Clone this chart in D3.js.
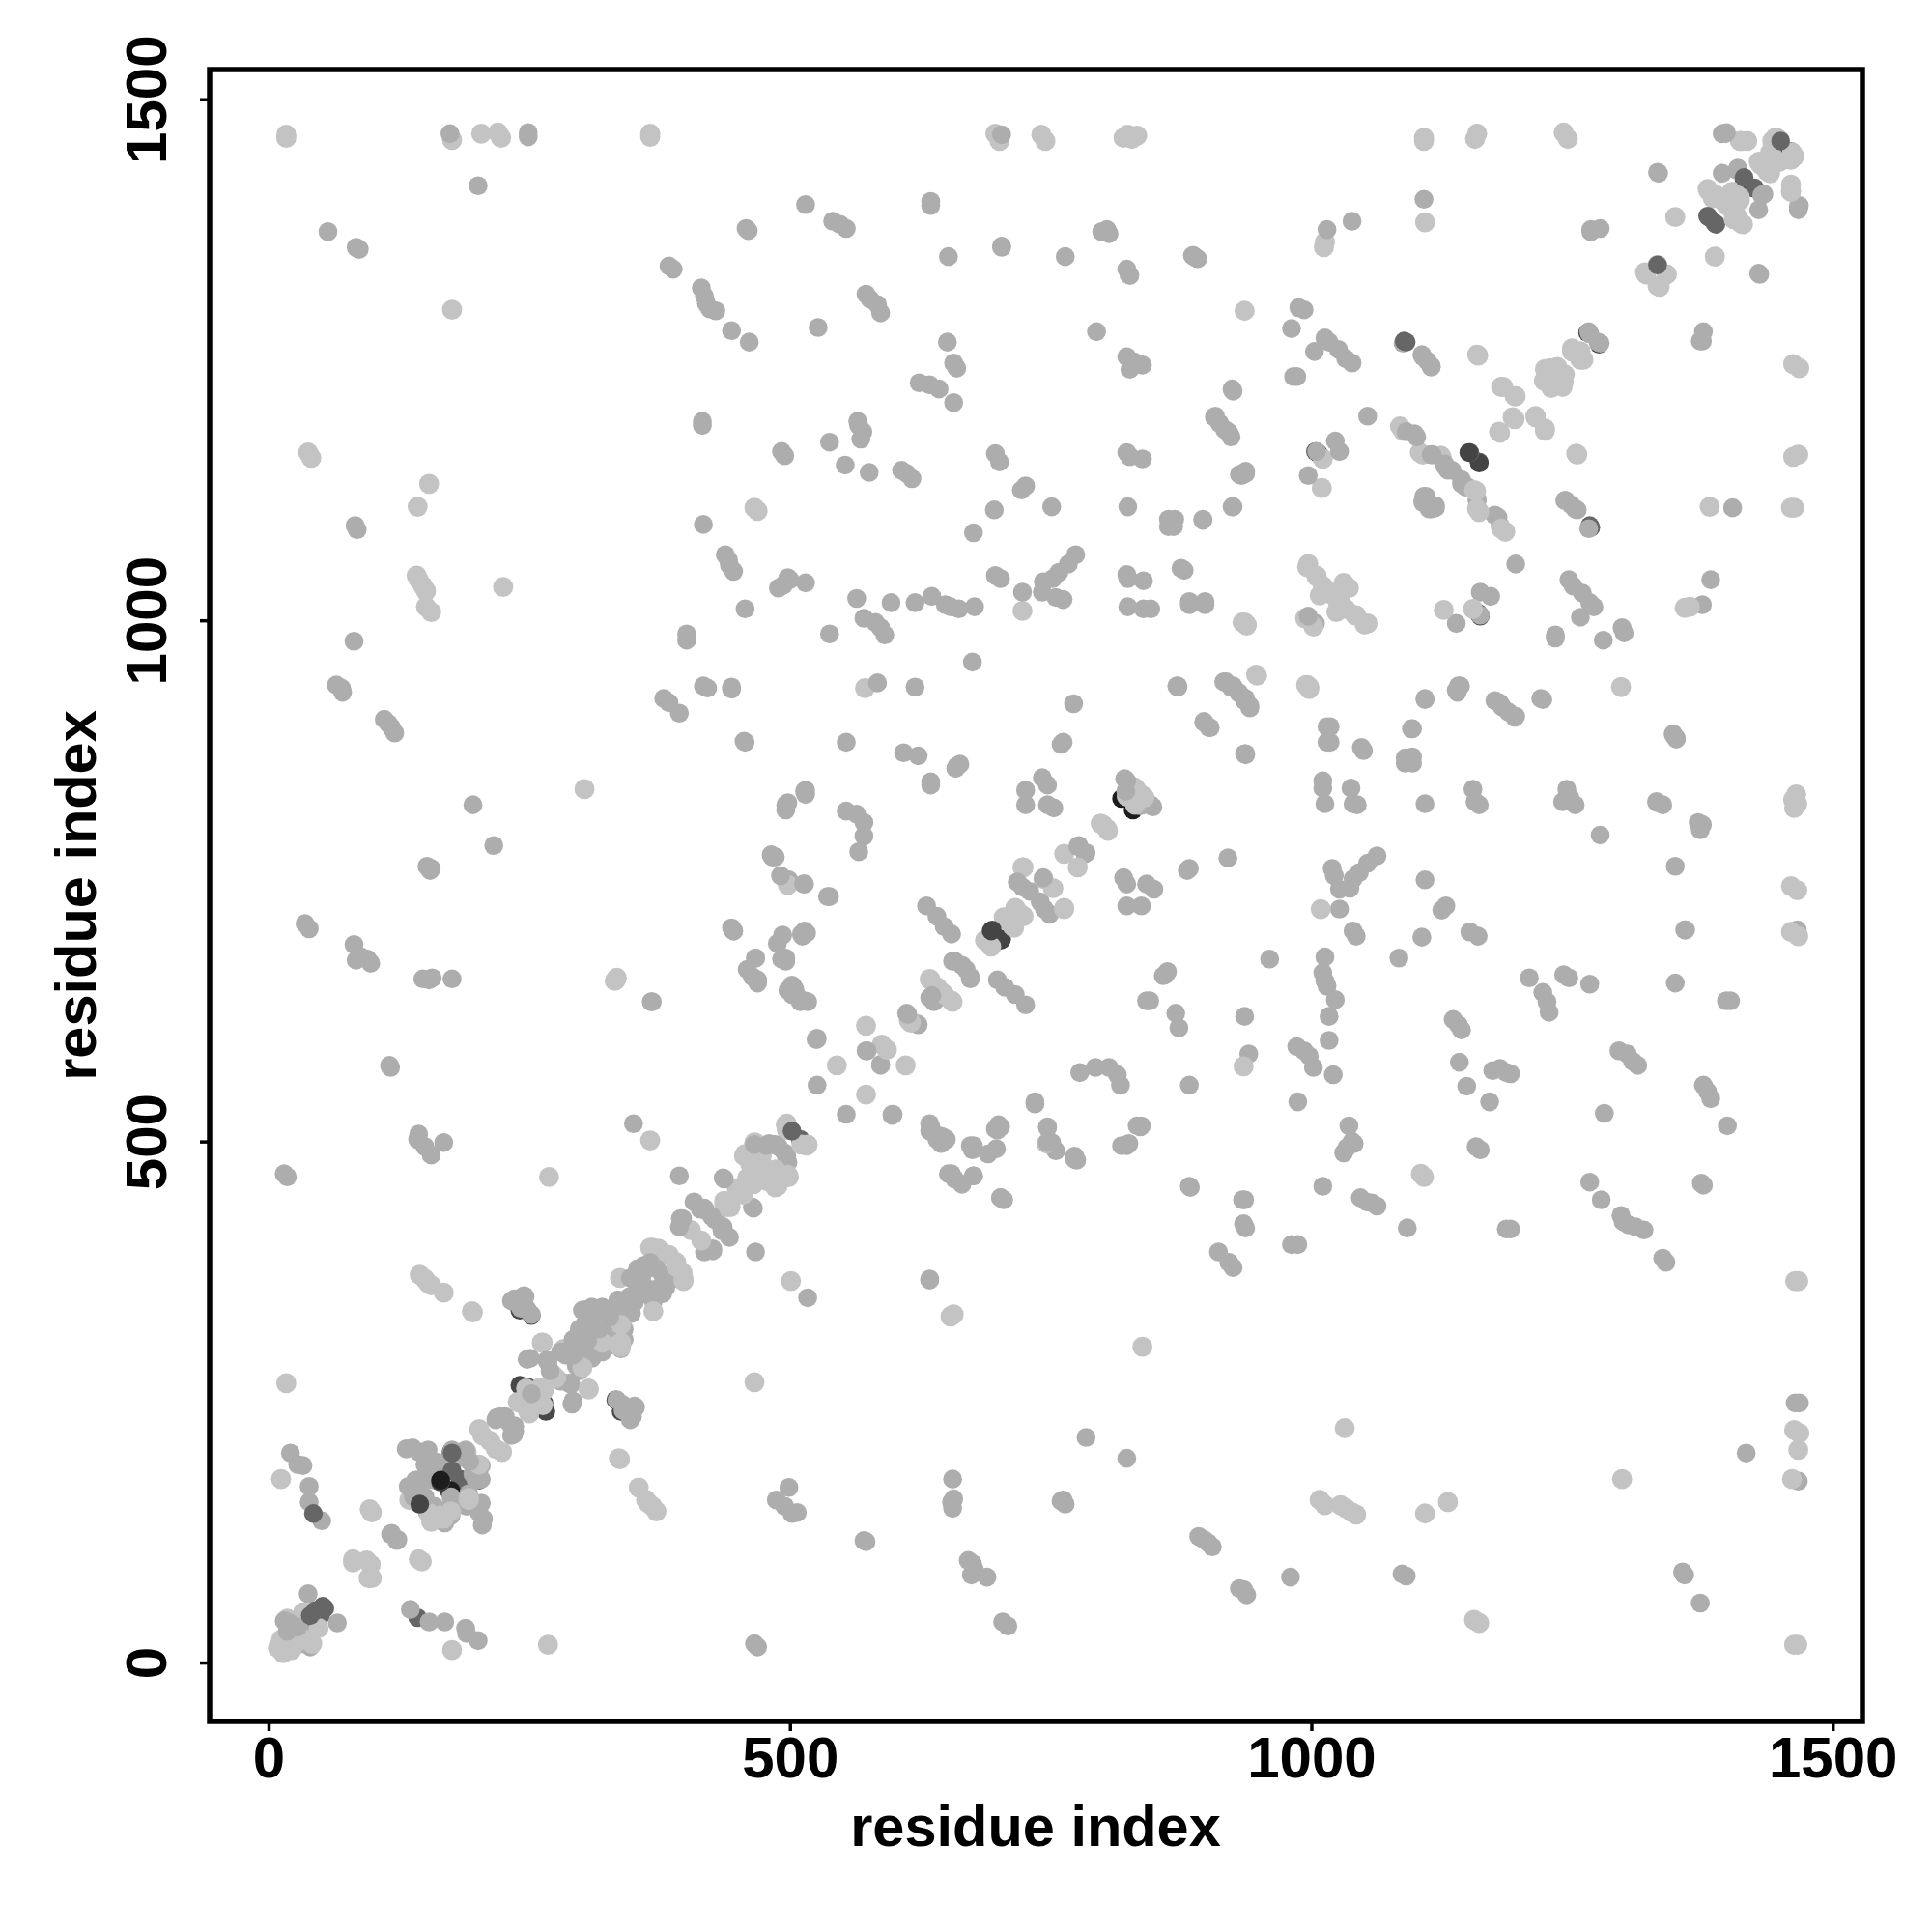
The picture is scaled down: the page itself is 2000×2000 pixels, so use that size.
<!DOCTYPE html>
<html><head><meta charset="utf-8">
<script src="https://cdn.jsdelivr.net/npm/d3@7"></script>
<style>html,body{margin:0;background:#fff}svg{display:block}</style></head>
<body><svg id="c" width="2000" height="2000"></svg>
<script>
const tickValues=[0,500,1000,1500];
const axisTitle="residue index";
const contactsMid=[[15,40],[28,34],[18,30],[20,38],[38,66],[21,201],[33,189],[28,190],[39,169],[39,154],[51,136],[15,469],[18,466],[39,704],[35,709],[57,1373],[85,1357],[84,1358],[87,1356],[85,1087],[83,1091],[82,980],[70,935],[65,938],[71,931],[98,671],[95,675],[89,677],[84,674],[82,689],[117,571],[116,573],[121,892],[118,897],[115,901],[111,905],[154,655],[148,656],[157,657],[176,656],[155,760],[152,764],[156,762],[196,823],[216,784],[201,1417],[174,1467],[249,1464],[249,1468],[460,1374],[458,1376],[515,1399],[554,1376],[548,1380],[541,1383],[388,1337],[384,1340],[429,1297],[423,1299],[420,1304],[418,1311],[415,1319],[444,1278],[461,1267],[527,1281],[538,1171],[553,1149],[576,1142],[495,1158],[492,1162],[417,1092],[446,1047],[442,1053],[441,1058],[438,1063],[416,1187],[416,1191],[401,981],[401,987],[384,921],[379,925],[394,911],[421,935],[417,937],[444,936],[444,934],[457,883],[456,884],[457,1011],[489,1031],[494,1034],[500,1039],[515,1036],[498,1041],[564,1021],[597,1017],[620,1017],[538,987],[554,883],[584,940],[623,870],[609,873],[635,842],[635,845],[620,936],[591,986],[587,993],[582,998],[571,1002],[662,1011],[654,1013],[649,1015],[636,1023],[677,1013],[676,1084],[696,1106],[617,1136],[612,1141],[607,1144],[568,1174],[570,1181],[566,1187],[565,1191],[657,1209],[643,1222],[634,1226],[624,1228],[660,1242],[657,1247],[651,1267],[587,1295],[584,1303],[577,1308],[573,1313],[652,1349],[703,1358],[703,1359],[764,1349],[804,1375],[799,1373],[806,1371],[635,1402],[635,1398],[703,1466],[891,1347],[887,1350],[826,1331],[823,1337],[825,1332],[838,1245],[830,1248],[826,1241],[823,1253],[794,1277],[826,1157],[823,1161],[838,1155],[868,1090],[863,1090],[896,1096],[924,1109],[824,1109],[878,1048],[898,1015],[883,1015],[846,1011],[839,1011],[824,1013],[839,1038],[824,1040],[823,1044],[774,1063],[767,1054],[758,1046],[752,1040],[743,1037],[762,1020],[755,1022],[742,1027],[723,1027],[702,1040],[697,1043],[751,1109],[722,1125],[726,1129],[701,1152],[697,1160],[760,881],[762,883],[772,920],[675,960],[663,862],[660,860],[659,858],[747,823],[726,823],[753,820],[747,842],[742,849],[726,837],[941,918],[925,937],[931,930],[923,936],[916,941],[897,903],[902,897],[872,936],[871,937],[872,937],[1018,883],[1050,875],[1018,898],[896,1097],[925,1109],[863,1097],[869,1097],[931,1140],[937,1141],[921,1180],[917,1183],[908,1196],[924,1222],[925,1220],[907,1195],[912,1189],[923,1176],[920,1181],[933,1139],[937,1143],[886,1350],[889,1348],[993,1298],[988,1300],[981,1280],[983,1234],[986,1234],[997,1139],[1005,1162],[1023,1172],[1027,1162],[1054,1196],[1003,1258],[1013,1271],[1017,1267],[1026,1260],[1033,1251],[1039,1247],[1015,1375],[1039,1383],[1108,1404],[1268,1373],[1277,1376],[1332,1430],[1333,1429],[1091,1181],[1099,1179],[1115,1159],[1128,1148],[1131,1144],[1135,1144],[1128,1150],[1116,1159],[1101,1176],[1106,1255],[1111,1249],[1115,1243],[1108,1119],[1107,1113],[1110,1119],[1107,1115],[1115,1244],[1107,1253],[1088,1266],[138,206],[189,204],[144,169],[141,175],[139,159],[153,204],[218,233],[227,233],[219,235],[227,236],[226,235],[222,236],[252,258],[248,291],[267,290],[268,288],[270,280],[280,298],[292,295],[285,295],[284,298],[298,304],[298,320],[306,309],[305,314],[323,337],[360,375],[354,375],[358,366],[343,344],[354,378],[366,384],[372,378],[360,381],[354,369],[354,360],[347,369],[335,348],[338,343],[346,351],[301,338],[310,341],[320,341],[327,331],[323,338],[310,338],[304,326],[317,320],[309,329],[292,310],[394,467],[436,465],[367,634],[368,634],[350,517],[395,426],[394,418],[408,442],[419,434],[397,426],[418,436],[425,428],[414,435],[437,464],[483,497],[486,497],[466,497],[480,498],[489,495],[477,496],[526,554],[526,598],[574,587],[612,623],[613,622],[634,638],[636,640],[656,673],[665,669],[658,673],[631,726],[641,716],[648,706],[655,699],[718,749],[730,740],[723,744],[743,753],[776,783],[777,784],[821,848],[823,846],[822,836],[997,1004],[1266,1277],[1267,1275],[1394,1467],[1398,1468],[1394,1429],[1409,1434],[1408,1432],[1397,1467],[168,499],[156,487],[150,495],[144,507],[252,334],[242,340],[248,339],[242,347],[246,351],[251,292],[118,124],[117,123],[143,502],[554,817],[564,814],[571,806],[571,793],[566,778],[502,650],[505,645],[498,645],[502,641],[510,634],[517,634],[511,699],[514,702],[493,698],[496,673],[492,675],[488,690],[486,773],[491,755],[513,747],[536,735],[459,665],[469,655],[467,676],[446,702],[444,705],[514,836],[496,823],[498,825],[635,514],[638,508],[647,504],[697,512],[700,516],[676,496],[652,469],[658,464],[676,467],[702,446],[735,538],[747,514],[751,499],[747,499],[775,482],[773,483],[818,496],[837,515],[833,515],[599,526],[573,587],[1375,1268],[236,349],[245,352],[233,347],[525,598],[134,169],[150,175],[147,156],[150,159],[159,175],[150,190],[162,192],[181,196],[193,193],[187,202],[175,199],[156,193],[144,202],[132,205],[176,204]];
const contactsLight=[[9,14],[12,22],[20,28],[18,42],[22,36],[33,48],[17,1466],[17,1463],[12,176],[17,268],[41,1156],[38,1161],[156,1008],[151,1013],[151,1028],[148,1033],[144,1039],[142,1043],[143,1109],[154,1131],[225,1032],[176,1298],[176,1461],[204,1467],[223,1463],[220,1468],[366,1464],[366,1467],[466,1108],[469,1105],[303,838],[269,466],[195,337],[168,355],[156,362],[145,372],[153,364],[150,368],[332,654],[144,153],[141,165],[145,175],[135,156],[138,168],[156,192],[158,192],[190,202],[202,224],[212,213],[205,218],[247,263],[239,250],[241,249],[261,264],[273,276],[263,307],[262,307],[283,301],[307,320],[307,338],[303,338],[306,338],[305,335],[324,338],[366,398],[380,391],[368,398],[374,397],[382,391],[384,391],[337,369],[334,657],[333,655],[366,501],[405,415],[437,439],[437,443],[496,516],[497,511],[497,517],[457,488],[466,499],[468,498],[471,480],[457,486],[459,465],[462,485],[473,486],[465,495],[456,486],[462,478],[462,467],[449,455],[545,573],[573,611],[588,593],[614,616],[634,656],[641,648],[642,647],[635,655],[687,693],[705,715],[707,713],[716,724],[717,723],[743,752],[723,763],[724,763],[763,776],[798,805],[800,804],[830,840],[832,838],[823,831],[997,1054],[1005,1042],[1014,1030],[1031,1036],[1011,1033],[1008,1024],[996,1051],[994,1002],[1019,1025],[1005,1043],[1182,1224],[1195,1215],[1193,1195],[1180,1181],[1196,1215],[1184,1224],[1224,1241],[1236,1243],[1229,1242],[1223,1230],[1232,1238],[1227,1232],[1258,1258],[1250,1261],[1250,1258],[1320,1334],[1321,1332],[1332,1341],[1411,1460],[1418,1460],[1445,1463],[1440,1449],[1429,1440],[1431,1437],[1446,1463],[1442,1460],[1449,1461],[1380,1414],[1388,1408],[1403,1411],[1406,1411],[1397,1400],[1381,1412],[1385,1405],[1412,1460],[1085,1186],[1104,1161],[1124,1158],[1125,1156],[1107,1159],[1088,1182],[1159,1255],[1127,1010],[1011,1155],[1012,1358],[1013,1363],[1109,1382],[1108,1463],[1108,1460],[1157,1462],[1159,1467],[1246,1462],[1242,1468],[1349,1387],[1254,1160],[995,938],[998,936],[996,938],[998,934],[572,935],[948,947],[1297,936],[498,746],[1009,723],[99,144],[97,147],[81,96],[94,98],[81,99],[196,336],[701,1460],[697,1467],[745,1460],[741,1466],[833,1465],[824,1466],[828,1462],[820,1463]];
const contactsDarkBelow=[[175,184],[175,202],[252,333],[241,338],[1004,1162],[1265,1276],[1448,1459],[1415,1423],[249,264],[304,313],[303,312],[1160,1007],[241,266]];
const contactsBlackBelow=[[818,829]];
const contactsDark=[[176,201],[176,184],[502,510],[1089,1268],[1091,1267],[1450,1460],[1415,1425],[1380,1388],[1381,1387],[1152,1161],[40,45],[45,50],[52,54],[43,143],[1332,1341]];
const contactsDarker=[[145,152],[165,173],[693,702],[694,703],[1151,1161]];
const contactsBlack=[[165,175]];

const xScale=d3.scaleLinear().domain([-56.5,1528.5]).range([217,1928]);
const yScale=d3.scaleLinear().domain([-56.5,1528.5]).range([1782,72]);
const svg=d3.select("#c");
const plot=svg.append("g");
function dots(list,side,fill,r){
  plot.selectAll(null).data(list).join("circle")
    .attr("cx",d=>xScale(side==="upper"?d[0]:d[1]))
    .attr("cy",d=>yScale(side==="upper"?d[1]:d[0]))
    .attr("r",r).attr("fill",fill);
}
const darkTones=[[contactsDark,"#666666"],[contactsDarker,"#444444"],[contactsBlack,"#1c1c1c"]];
["upper","lower"].forEach(s=>{
  dots(contactsDarkBelow,s,"#484848",9.7);
  dots(contactsBlackBelow,s,"#1c1c1c",9.7);
});
darkTones.forEach(t=>dots(t[0],"lower",t[1],9.7));
dots(contactsMid,"lower","#adadad",9.8);
dots(contactsLight,"lower","#c3c3c3",10.4);
dots(contactsLight,"upper","#c3c3c3",10.4);
dots(contactsMid,"upper","#adadad",9.8);
darkTones.forEach(t=>dots(t[0],"upper",t[1],9.7));

const font='"Liberation Sans",Arial,sans-serif';
const xAxis=svg.append("g").attr("transform","translate(0,1782)")
  .call(d3.axisBottom(xScale).tickValues(tickValues).tickSize(10).tickPadding(6).tickFormat(d3.format("d")));
const yAxis=svg.append("g").attr("transform","translate(217,0)")
  .call(d3.axisLeft(yScale).tickValues(tickValues).tickSize(10).tickFormat(d3.format("d")));
[xAxis,yAxis].forEach(a=>{
  a.select(".domain").remove();
  a.selectAll("line").attr("stroke","#000").attr("stroke-width",3.5);
  a.selectAll("text").attr("fill","#000").style("font",`bold 60px ${font}`);
});
xAxis.selectAll("text").attr("y",0).attr("dy",0).attr("transform","translate(0,58)").attr("text-anchor","middle");
yAxis.selectAll("text").attr("x",0).attr("dy",0).attr("text-anchor","middle")
  .attr("transform",d=>`translate(-45,0) rotate(-90)`);
svg.append("rect").attr("x",217).attr("y",72).attr("width",1711).attr("height",1710)
  .attr("fill","none").attr("stroke","#000").attr("stroke-width",5.5);
svg.append("text").attr("x",1072).attr("y",1911).attr("text-anchor","middle")
  .style("font",`bold 59.5px ${font}`).text(axisTitle);
svg.append("text").attr("transform","translate(99,927) rotate(-90)").attr("text-anchor","middle")
  .style("font",`bold 59.5px ${font}`).text(axisTitle);
</script></body></html>
